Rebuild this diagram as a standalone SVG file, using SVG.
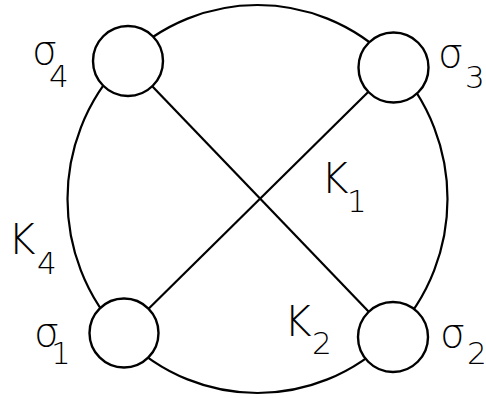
<svg xmlns="http://www.w3.org/2000/svg" width="486" height="398" viewBox="0 0 486 398">
<style>
.edge{fill:none;stroke:#000;stroke-width:2.2}
.node{fill:#fff;stroke:#000;stroke-width:2.4}
.lbl{font-family:"DejaVu Sans","Liberation Sans",sans-serif;font-weight:200;fill:#000}
.big{font-size:42px}
.sig{font-size:40px}
.sub{font-size:31px}
</style>
<rect width="486" height="398" fill="#fff"/>
<g id="connectors">
<ellipse class="edge" cx="257.5" cy="199" rx="190" ry="194"/>
<line class="edge" x1="128" y1="61" x2="393" y2="337"/>
<line class="edge" x1="393.5" y1="67" x2="124" y2="333"/>
</g>
<g id="sigma4"><circle class="node" cx="128" cy="61" r="35"/></g>
<g id="sigma3"><circle class="node" cx="393.5" cy="67.5" r="35"/></g>
<g id="sigma1"><circle class="node" cx="124" cy="333" r="34.5"/></g>
<g id="sigma2"><circle class="node" cx="393" cy="337" r="35"/></g>
<g id="labels" class="lbl">
<text><tspan class="sig" x="32" y="64">σ</tspan><tspan class="sub" x="49" y="87">4</tspan></text>
<text><tspan class="sig" x="438" y="67">σ</tspan><tspan class="sub" x="465" y="88">3</tspan></text>
<text><tspan class="sig" x="34" y="346">σ</tspan><tspan class="sub" x="51" y="364">1</tspan></text>
<text><tspan class="sig" x="440" y="347">σ</tspan><tspan class="sub" x="467" y="364">2</tspan></text>
<text><tspan class="big" x="321" y="193">K</tspan><tspan class="sub" x="347" y="212">1</tspan></text>
<text><tspan class="big" x="8" y="254">K</tspan><tspan class="sub" x="37" y="274">4</tspan></text>
<text><tspan class="big" x="284" y="336">K</tspan><tspan class="sub" x="312" y="354">2</tspan></text>
</g>
</svg>
